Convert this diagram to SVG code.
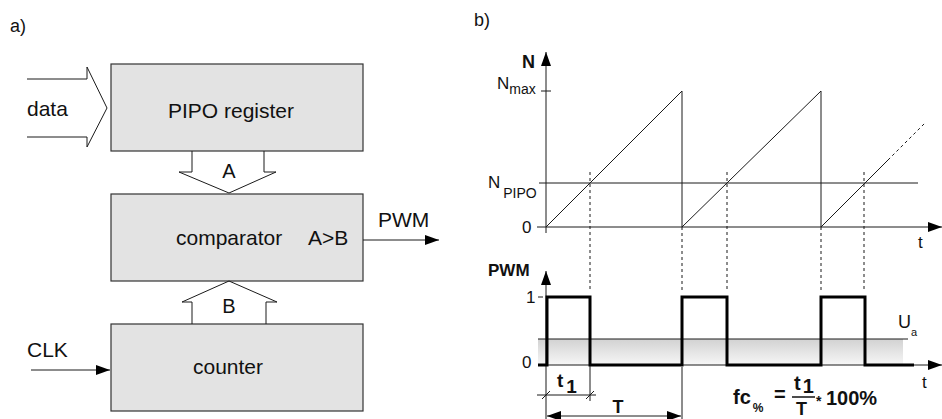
<svg xmlns="http://www.w3.org/2000/svg" width="942" height="419" viewBox="0 0 942 419">
<defs>
<style>
text{font-family:"Liberation Sans",Arial,sans-serif;fill:#111}
.box{fill:#e3e3e3;stroke:#333;stroke-width:1.2}
.lbl{font-size:21px}
.ln{stroke:#1a1a1a;stroke-width:1;fill:none}
.dash{stroke:#1a1a1a;stroke-width:1;stroke-dasharray:3 3;fill:none}
.thick{stroke:#000;stroke-width:3;fill:none;stroke-linejoin:miter}
.ax{font-size:17px}
.b{font-weight:bold}
</style>
<marker id="ah" viewBox="0 0 14 10" refX="14" refY="5" markerWidth="14" markerHeight="10" orient="auto-start-reverse" markerUnits="userSpaceOnUse"><path d="M0,0 L14,5 L0,10 z" fill="#000"/></marker>
<linearGradient id="band" x1="0" y1="0" x2="0" y2="1"><stop offset="0" stop-color="#d2d2d2"/><stop offset="1" stop-color="#f7f7f7"/></linearGradient>
</defs>
<rect width="942" height="419" fill="#fff"/>

<text x="10" y="32" font-size="18">a)</text>
<text x="474" y="26" font-size="18">b)</text>

<g id="pipo"><rect class="box" x="111" y="64" width="252" height="87"/><text x="231" y="118" text-anchor="middle" class="lbl">PIPO register</text></g>
<g id="comparator"><rect class="box" x="111" y="194" width="252" height="87"/><text x="176" y="245" class="lbl">comparator</text><text x="308" y="245" class="lbl">A&gt;B</text></g>
<g id="counter"><rect class="box" x="111" y="324" width="252" height="87"/><text x="228" y="374" text-anchor="middle" class="lbl">counter</text></g>

<g id="connectors">
<path class="ln" d="M27,79 H87 V67 L107,108 L87,147 V137 H27"/>
<text x="27" y="116" class="lbl">data</text>
<path class="ln" d="M192,151 V172 H179 L229,193 L276,172 H264 V151"/>
<text x="229" y="178" text-anchor="middle" font-size="20">A</text>
<path class="ln" d="M192,324 V302 H182 L229,281 L277,302 H266 V324"/>
<text x="229" y="313" text-anchor="middle" font-size="20">B</text>
<line class="ln" x1="363" y1="240" x2="439" y2="240" marker-end="url(#ah)"/>
<text x="378" y="227" class="lbl">PWM</text>
<line class="ln" x1="31" y1="370" x2="110" y2="370" marker-end="url(#ah)"/>
<text x="27" y="357" class="lbl">CLK</text>
</g>

<g id="graph-n">
<line class="ln" x1="546" y1="233" x2="546" y2="52" marker-end="url(#ah)"/>
<text x="522" y="68" font-size="18" class="b">N</text>
<line class="ln" x1="541" y1="91" x2="551" y2="91"/>
<text x="497" y="89" font-size="17">N<tspan font-size="14" dy="5">max</tspan></text>
<text x="488" y="188" font-size="17">N<tspan font-size="14" dx="3" dy="10">PIPO</tspan></text>
<line class="ln" x1="539" y1="183" x2="918" y2="183"/>
<line class="ln" x1="537" y1="227" x2="942" y2="227" marker-end="url(#ah)"/>
<text x="522" y="233" class="ax">0</text>
<text x="918" y="248" class="ax">t</text>
<path class="ln" d="M546,227 L682,91 V227 L821,91 V227 L888,160"/>
<path class="dash" d="M888,160 L925,123"/>
<path class="dash" d="M590,172 V290 M727,172 V290 M864,172 V290 M682,227 V290 M821,227 V290"/>
</g>

<g id="graph-pwm">
<rect x="538" y="339" width="365" height="26" fill="url(#band)"/>
<line class="ln" x1="538" y1="339" x2="908" y2="339"/>
<line class="ln" x1="546" y1="419" x2="546" y2="271" marker-end="url(#ah)"/>
<text x="488" y="276" font-size="17" class="b">PWM</text>
<line class="ln" x1="538" y1="365" x2="942" y2="365" marker-end="url(#ah)"/>
<line class="ln" x1="538" y1="297" x2="543" y2="297"/>
<text x="526" y="303" class="ax">1</text>
<text x="522" y="368" class="ax">0</text>
<path class="thick" d="M538,365 H547 V297 H590 V365 H682 V297 H727 V365 H821 V297 H865 V365 H914"/>
<text x="898" y="328" font-size="18">U<tspan font-size="11" dy="8">a</tspan></text>
<text x="922" y="388" class="ax">t</text>
<line class="ln" x1="590" y1="366" x2="590" y2="401"/>
<line class="ln" x1="682" y1="367" x2="682" y2="419"/>
<line class="ln" x1="537" y1="395" x2="596" y2="395"/>
<path class="ln" d="M542,399 L550,391 M586,399 L594,391"/>
<text x="557" y="387" font-size="19" class="b">t<tspan dx="3" dy="6">1</tspan></text>
<line class="ln" x1="547" y1="416" x2="681" y2="416" marker-start="url(#ah)" marker-end="url(#ah)"/>
<text x="618" y="413" font-size="18" class="b" text-anchor="middle">T</text>
</g>

<g id="formula" font-weight="bold">
<text x="733" y="404" font-size="20">fc<tspan font-size="12" dx="2" dy="8">%</tspan></text>
<text x="774" y="401" font-size="20">=</text>
<text x="794" y="390" font-size="20">t<tspan dx="2" dy="3">1</tspan></text>
<line x1="792" y1="397" x2="815" y2="397" stroke="#111" stroke-width="1.5"/>
<text x="796" y="415" font-size="18">T</text>
<text x="816" y="406" font-size="14">*</text>
<text x="826" y="405" font-size="20">100%</text>
</g>
</svg>
